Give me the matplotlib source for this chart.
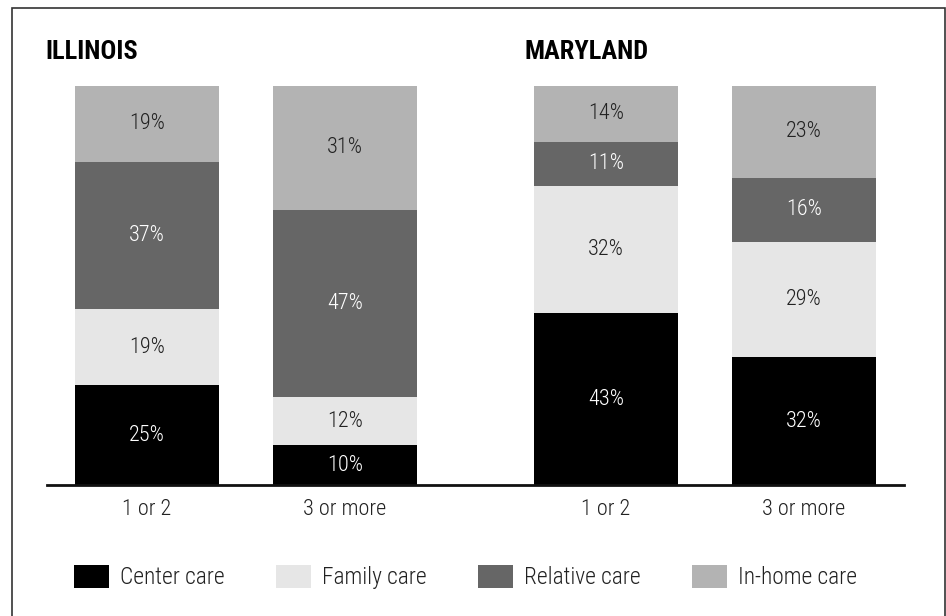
import matplotlib
matplotlib.use("Agg")
import numpy as np
import matplotlib.pyplot as plt
from matplotlib.patches import Patch, Rectangle

plt.rcParams['font.family'] = ['Roboto Condensed', 'Liberation Sans', 'DejaVu Sans']

# data
groups = ['ILLINOIS', 'MARYLAND']
bar_labels = ['1 or 2', '3 or more', '1 or 2', '3 or more']
care_types = ['Center care', 'Family care', 'Relative care', 'In-home care']
center_care = [25, 10, 43, 32]
family_care = [19, 12, 32, 29]
relative_care = [37, 47, 11, 16]
inhome_care = [19, 31, 14, 23]

colors = ['#000000', '#e6e6e6', '#666666', '#b3b3b3']
text_colors = ['white', '#222222', 'white', '#222222']

W, H = 946, 616
fig = plt.figure(figsize=(W / 100, H / 100), dpi=100)

# plot area: baseline line from x=47 to 904, bars from y=86 to 485
ax = fig.add_axes([47 / W, 1 - 485 / H, (904 - 47) / W, (485 - 86) / H])

positions = np.array([0, 1, 2.318, 3.318])
width = 0.727
series = [center_care, family_care, relative_care, inhome_care]

bottom = np.zeros(len(positions))
for vals, col, tcol in zip(series, colors, text_colors):
    vals = np.array(vals)
    ax.bar(positions, vals, width=width, bottom=bottom, color=col, linewidth=0)
    for x, b, v in zip(positions, bottom, vals):
        ax.text(x, b + v / 2, f'{v}%', ha='center', va='center',
                fontsize=16, fontweight='light', color=tcol)
    bottom += vals

ax.set_xlim(-0.505, 3.823)
ax.set_ylim(0, 100)
ax.set_yticks([])
ax.set_xticks(positions)
ax.set_xticklabels(bar_labels, fontsize=16, fontweight='light', color='#222222')
ax.tick_params(axis='x', length=0, pad=10)
for s in ['top', 'left', 'right']:
    ax.spines[s].set_visible(False)
ax.spines['bottom'].set_linewidth(2)
ax.spines['bottom'].set_color('#111111')

# group titles
fig.text(45 / W, 1 - 52 / H, groups[0], fontsize=19, fontweight='bold', va='center', ha='left')
fig.text(524 / W, 1 - 52 / H, groups[1], fontsize=19, fontweight='bold', va='center', ha='left')

# legend
handles = [Patch(facecolor=c, edgecolor='none', label=l) for c, l in zip(colors, care_types)]
fig.legend(handles=handles, loc='center left', bbox_to_anchor=(74 / W, 1 - 577 / H),
           ncol=4, frameon=False, prop={'size': 16.8, 'weight': 'light'},
           handlelength=1.5, handleheight=1.15,
           handletextpad=0.47, columnspacing=2.2, borderpad=0, borderaxespad=0,
           labelcolor='#222222')

# outer frame
fig.patches.append(Rectangle((11.5 / W, -0.05), (944.5 - 11.5) / W, 1.05 - 8 / H,
                             transform=fig.transFigure, fill=False,
                             edgecolor='#333333', linewidth=1.2))

fig.savefig('out.png', dpi=100)
